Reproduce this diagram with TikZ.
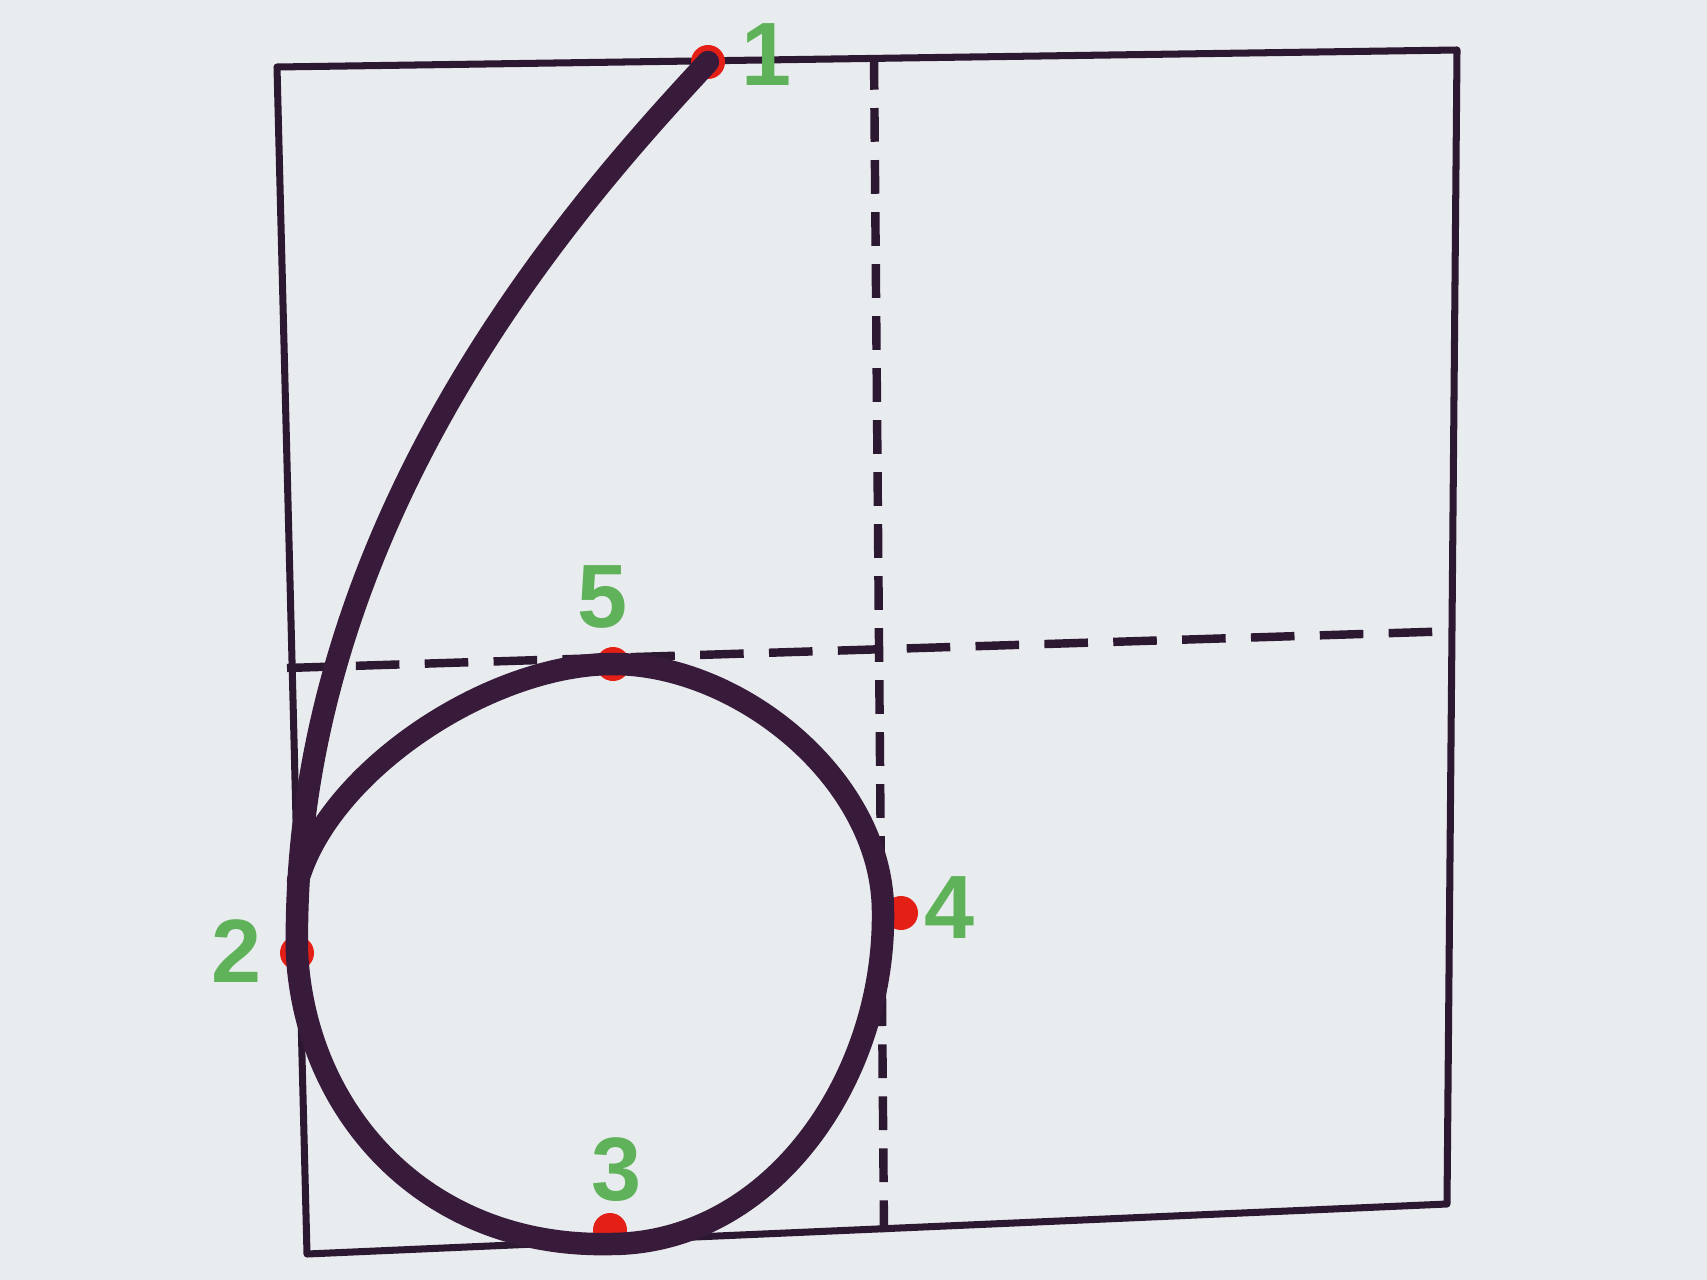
\documentclass[tikz,border=0pt]{standalone}
\usepackage{fontspec}
\setmainfont{Liberation Sans}
\definecolor{bg}{RGB}{232,236,238}
\definecolor{ink}{RGB}{45,24,50}
\definecolor{stroke}{RGB}{56,26,58}
\definecolor{dotred}{RGB}{228,32,22}
\definecolor{lblgreen}{RGB}{96,178,90}
\tikzset{
  boxline/.style={draw=ink, line width=10pt, line join=round},
  hdash/.style={draw=ink, line width=12pt, dash pattern=on 62pt off 36pt},
  vdash/.style={draw=ink, line width=12pt, dash pattern=on 48pt off 26pt},
  sixline/.style={draw=stroke, line width=32pt, line cap=round, line join=round},
  reddot/.style={fill=dotred},
  numlabel/.style={text=lblgreen, inner sep=0pt, font=\fontsize{128}{128}\selectfont\bfseries}
}
\begin{document}
\begin{tikzpicture}[x=0.5mm,y=-0.5mm]
\useasboundingbox (0,0) rectangle (1707,1280);
\fill[bg] (0,0) rectangle (1707,1280);
% square frame
\coordinate (tl) at (277,67);
\coordinate (tr) at (1457,50);
\coordinate (br) at (1447,1204);
\coordinate (bl) at (307,1254);
\draw[boxline] (tl) -- (tr) -- (br) -- (bl) -- cycle;
% dashed guide lines
\coordinate (vt) at (874,56);
\coordinate (vb) at (884,1232);
\coordinate (hl) at (287,668);
\coordinate (hr) at (1457,631);
\draw[vdash] (vt) -- (vb);
\draw[hdash] (hl) -- (hr);
% key points (red marks)
\coordinate (p1) at (708,62);
\coordinate (p2) at (297,953);
\coordinate (p3) at (610,1230);
\coordinate (p4) at (901,913);
\coordinate (p5) at (613,664);
\foreach \p in {p1,p2,p3,p4,p5} \fill[reddot] (\p) circle (17);
% points where the stroke passes
\coordinate (c3) at (610,1244);
\coordinate (c4) at (883,912);
\coordinate (cend) at (298,880);
% the figure six
\draw[sixline] (p1) .. controls (580,200) and (290,520) .. (p2)
  .. controls (305,1112) and (425,1248) .. (c3)
  .. controls (770,1244) and (885,1080) .. (c4)
  .. controls (883,780) and (740,664) .. (p5)
  .. controls (490,664) and (330,770) .. (cend);
% labels
\node[numlabel] (l1) at (767,55) {1};
\node[numlabel] (l2) at (237,951) {2};
\node[numlabel] (l3) at (617,1170) {3};
\node[numlabel] (l4) at (950,908) {4};
\node[numlabel] (l5) at (603,597) {5};
\end{tikzpicture}
\end{document}
